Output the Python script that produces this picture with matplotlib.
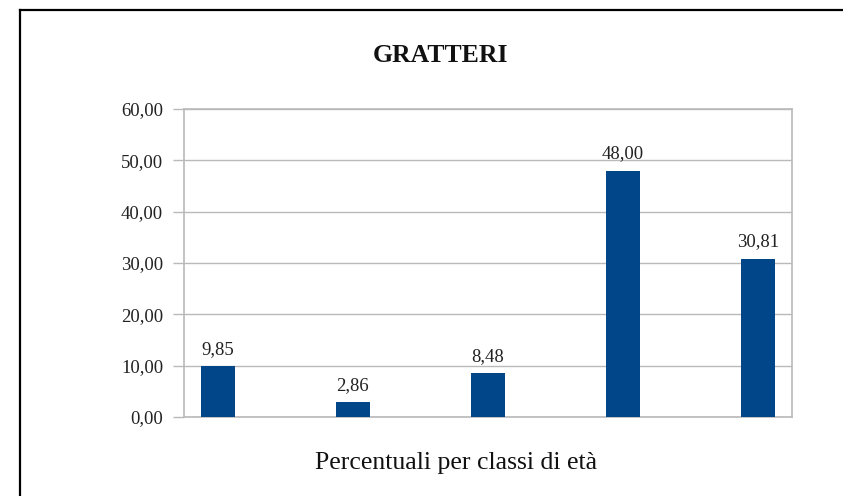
import matplotlib
matplotlib.use('Agg')
from matplotlib import pyplot as plt
from matplotlib.lines import Line2D
import numpy as np

classi = ['1', '2', '3', '4', '5']
percentuali = [9.85, 2.86, 8.48, 48.00, 30.81]
yticks = [0, 10, 20, 30, 40, 50, 60]

plt.rcParams['font.family'] = ['Liberation Serif', 'DejaVu Serif']

fig = plt.figure(figsize=(8.43, 4.96), dpi=100)
ax = fig.add_axes([184/843, 1 - 417/496, 608/843, 308/496])

grigio = '#b9b9b9'
x = np.arange(len(classi))
bars = ax.bar(x, percentuali, width=0.25, color='#02468a', zorder=3)

for b, v in zip(bars, percentuali):
    ax.annotate(f'{v:.2f}'.replace('.', ','),
                xy=(b.get_x() + b.get_width() / 2, v), xytext=(0, 6),
                textcoords='offset points', ha='center', va='bottom',
                fontsize=13.5, color='#222222')

ax.set_xlim(-0.25, len(classi) - 0.75)
ax.set_ylim(0, 60)
ax.set_xticks([])
ax.set_yticks(yticks)
ax.set_yticklabels([f'{t:.2f}'.replace('.', ',') for t in yticks],
                   fontsize=13.5, color='#222222')
ax.tick_params(axis='y', length=8, color=grigio, width=1, pad=7)
ax.yaxis.grid(True, color=grigio, linewidth=1, zorder=0)
for s in ax.spines.values():
    s.set_color(grigio)
    s.set_linewidth(1.2)

fig.text(441/843, 1 - 55/496, 'GRATTERI', ha='center', va='center',
         fontsize=18.5, fontweight='bold', color='#111111')
fig.text(456/843, 1 - 463/496, 'Percentuali per classi di età',
         ha='center', va='center', fontsize=18.5, color='#111111')

# cornice esterna
fig.add_artist(Line2D([20/843, 20/843], [0, 1 - 10/496], transform=fig.transFigure,
                      color='black', linewidth=1.6))
fig.add_artist(Line2D([20/843, 1], [1 - 10/496, 1 - 10/496], transform=fig.transFigure,
                      color='black', linewidth=1.6))

fig.savefig('out.png', dpi=100)
